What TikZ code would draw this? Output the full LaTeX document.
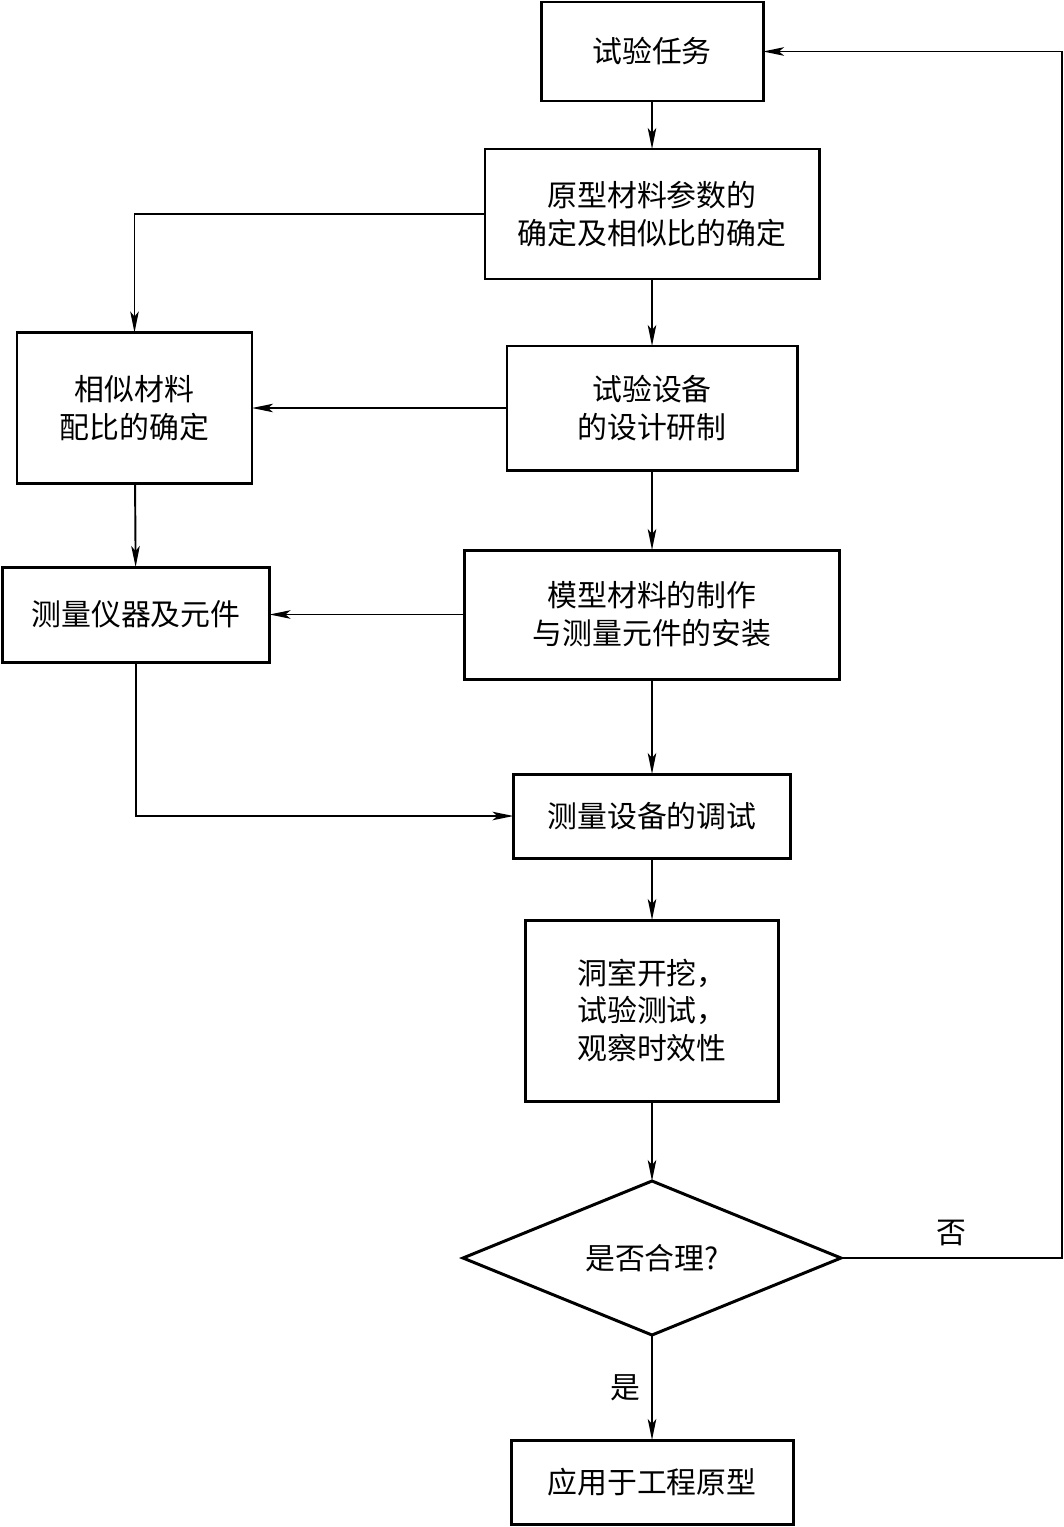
\documentclass[tikz,border=0pt]{standalone}
\usepackage{fontspec}
\setmainfont{Noto Sans CJK SC}
\usepackage{tikz}
\usetikzlibrary{arrows.meta,positioning,shapes.geometric}

\begin{document}
\begin{tikzpicture}[
  every node/.style={font=\fontsize{17}{21.5}\selectfont},
  box/.style={draw, line width=1.7pt, align=center, inner sep=0pt, outer sep=0pt},
  decision/.style={diamond, aspect=2.45, draw, line width=1.7pt, inner sep=0pt, outer sep=0pt, minimum width=7.56cm, minimum height=3.08cm},
  arr/.style={line width=1.1pt, -{Stealth[length=0.42cm, width=0.17cm, inset=0.1cm]}}
]
\useasboundingbox (0,0) rectangle (21.28,-30.54);

\node[box, minimum width=4.44cm, minimum height=1.98cm] (task) at (13.04,-1.03) {试验任务};
\node[box, minimum width=6.68cm, minimum height=2.6cm, below=0.96cm of task] (proto) {原型材料参数的\\确定及相似比的确定};
\node[box, minimum width=5.8cm, minimum height=2.48cm, below=1.34cm of proto] (equip) {试验设备\\的设计研制};
\node[box, minimum width=7.5cm, minimum height=2.58cm, below=1.6cm of equip] (model) {模型材料的制作\\与测量元件的安装};
\node[box, minimum width=5.54cm, minimum height=1.68cm, below=1.9cm of model] (tune) {测量设备的调试};
\node[box, minimum width=5.06cm, minimum height=3.62cm, below=1.24cm of tune] (dig) {洞室开挖，\\试验测试，\\观察时效性};
\node[decision, below=1.6cm of dig] (check) {是否合理?};
\node[box, minimum width=5.64cm, minimum height=1.68cm, below=2.1cm of check] (apply) {应用于工程原型};

\node[box, minimum width=4.7cm, minimum height=3.02cm, left=5.1cm of equip] (simmat) {相似材料\\配比的确定};
\node[box, minimum width=5.34cm, minimum height=1.9cm, left=3.9cm of model] (gauge) {测量仪器及元件};

\coordinate (back) at (21.24,-1.03);

\draw[arr] (task) -- (proto);
\draw[arr] (proto) -- (equip);
\draw[arr] (equip) -- (model);
\draw[arr] (model) -- (tune);
\draw[arr] (tune) -- (dig);
\draw[arr] (dig) -- (check);
\draw[arr] (check) -- node[midway, left=3pt] {是} (apply);
\draw[arr] (proto.west) -| (simmat.north);
\draw[arr] (equip.west) -- (simmat.east);
\draw[arr] (simmat) -- (gauge);
\draw[arr] (model.west) -- (gauge.east);
\draw[arr] (gauge.south) |- (tune.west);
\draw[arr] (check.east) -- node[midway, above=3pt] {否} (check.east -| back) |- (task.east);
\end{tikzpicture}
\end{document}
